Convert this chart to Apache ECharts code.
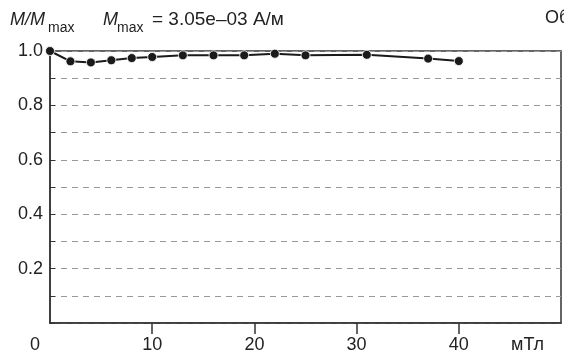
<!DOCTYPE html>
<html>
<head>
<meta charset="utf-8">
<script src="https://cdn.jsdelivr.net/npm/echarts@6/dist/echarts.min.js"></script>
<style>html,body{margin:0;padding:0;background:#fff}#c{width:564px;height:359px}</style>
</head>
<body>
<div id="c"></div>
<script>
var fieldValues = [0, 2, 4, 6, 8, 10, 13, 16, 19, 22, 25, 31, 37, 40];
var ratioValues = [1.0, 0.962, 0.958, 0.966, 0.974, 0.978, 0.984, 0.984, 0.984, 0.990, 0.984, 0.986, 0.972, 0.963];
var xTickValues = [10, 20, 30, 40];
var yLabelValues = [0.2, 0.4, 0.6, 0.8, 1.0];
var xUnit = 'мТл';
var mmaxText = '= 3.05e–03 А/м';

var chart = echarts.init(document.getElementById('c'), null, {renderer: 'canvas'});
var FONT = '"Liberation Sans", Arial, sans-serif';
var TXT = '#222';
var AX = '#333';
var data = fieldValues.map(function (x, i) { return [x, ratioValues[i]]; });

chart.setOption({
  animation: false,
  backgroundColor: '#fff',
  grid: {left: 50, right: 3, top: 51, bottom: 36, show: true, borderColor: AX, borderWidth: 1.5, backgroundColor: 'transparent'},
  xAxis: {
    type: 'value', min: 0, max: 50,
    axisLine: {show: true, onZero: false, lineStyle: {color: AX, width: 1.5}},
    axisTick: {show: true, inside: false, length: 11, customValues: xTickValues, lineStyle: {color: AX, width: 1.5}},
    axisLabel: {customValues: xTickValues, color: TXT, fontFamily: FONT, fontSize: 18, margin: 13},
    splitLine: {show: false}
  },
  yAxis: {
    type: 'value', min: 0, max: 1, interval: 0.1,
    axisLine: {show: true, lineStyle: {color: AX, width: 1.5}},
    axisTick: {show: true, inside: true, length: 5, lineStyle: {color: AX, width: 1}},
    axisLabel: {customValues: yLabelValues, color: TXT, fontFamily: FONT, fontSize: 18, margin: 7,
      formatter: function (v) { return v.toFixed(1); }},
    splitLine: {show: true, lineStyle: {color: '#999', type: [6, 5], width: 1}}
  },
  series: [{
    type: 'line',
    data: data,
    symbol: 'circle',
    symbolSize: 9,
    lineStyle: {color: '#1a1a1a', width: 2},
    itemStyle: {color: '#1a1a1a', borderColor: '#fff', borderWidth: 0.8},
    z: 5
  }],
  graphic: [
    {type: 'text', left: 10, top: 11, style: {text: 'M/M', font: 'italic 18px ' + FONT, fill: TXT}},
    {type: 'text', left: 48, top: 21, style: {text: 'max', font: '14px ' + FONT, fill: TXT}},
    {type: 'text', left: 103, top: 11, style: {text: 'M', font: 'italic 18px ' + FONT, fill: TXT}},
    {type: 'text', left: 117, top: 21, style: {text: 'max', font: '14px ' + FONT, fill: TXT}},
    {type: 'text', left: 152, top: 10, style: {text: mmaxText, font: '19px ' + FONT, fill: TXT}},
    {type: 'text', left: 545, top: 9, style: {text: 'Об', font: '18px ' + FONT, fill: TXT}},
    {type: 'text', left: 30, top: 336, style: {text: '0', font: '18px ' + FONT, fill: TXT}},
    {type: 'text', left: 511, top: 336, style: {text: xUnit, font: '18px ' + FONT, fill: TXT}}
  ]
});
</script>
</body>
</html>
